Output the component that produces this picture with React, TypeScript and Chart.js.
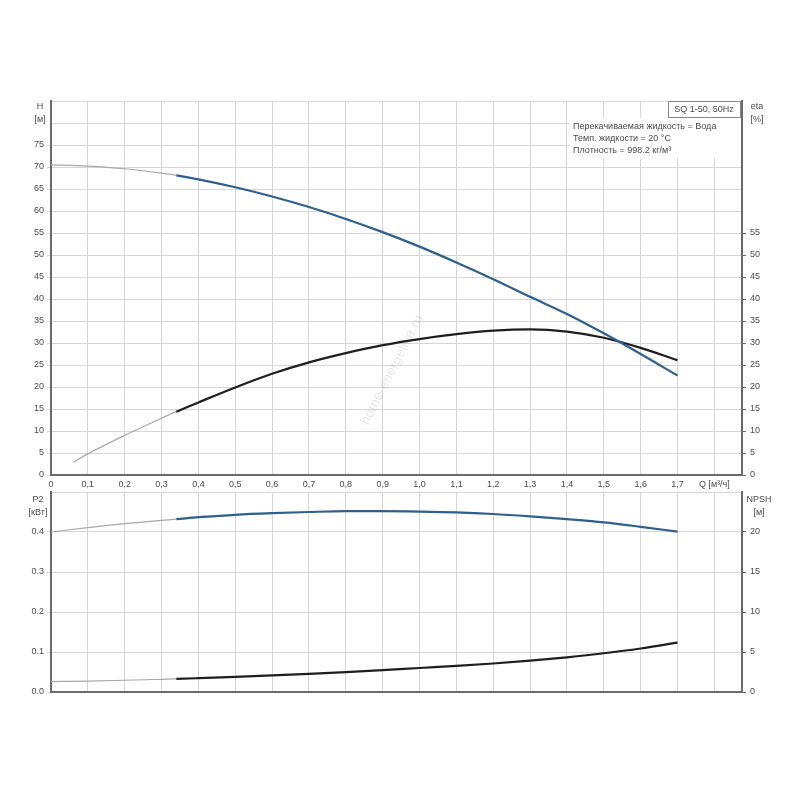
import { useEffect, useRef } from "react"
import { Chart, registerables } from "chart.js"

Chart.register(...registerables)

// flow points, m3/h
const flow = [0, 0.1, 0.2, 0.3, 0.34, 0.4, 0.5, 0.6, 0.7, 0.8, 0.9, 1.0, 1.1, 1.2, 1.3, 1.4, 1.5, 1.6, 1.7]
const head = [70.5, 70.2, 69.6, 68.6, 68.1, 67.2, 65.4, 63.3, 60.9, 58.2, 55.2, 51.9, 48.3, 44.5, 40.5, 36.6, 32.2, 27.5, 22.6]
const etaFlow = [0.06, 0.1, 0.2, 0.3, 0.34, 0.4, 0.5, 0.6, 0.7, 0.8, 0.9, 1.0, 1.1, 1.2, 1.3, 1.4, 1.5, 1.6, 1.7]
const eta = [2.9, 4.8, 9.0, 12.9, 14.4, 16.5, 19.9, 23.0, 25.6, 27.7, 29.5, 30.9, 32.0, 32.8, 33.1, 32.6, 31.2, 28.9, 26.1]
const power = [0.4, 0.411, 0.421, 0.429, 0.432, 0.437, 0.443, 0.447, 0.45, 0.452, 0.452, 0.451, 0.449, 0.445, 0.439, 0.432, 0.424, 0.413, 0.401]
const npsh = [1.29, 1.37, 1.47, 1.59, 1.64, 1.73, 1.89, 2.07, 2.27, 2.49, 2.73, 3.0, 3.26, 3.56, 3.92, 4.34, 4.84, 5.44, 6.17]

const flowTicks = [0, 0.1, 0.2, 0.3, 0.4, 0.5, 0.6, 0.7, 0.8, 0.9, 1.0, 1.1, 1.2, 1.3, 1.4, 1.5, 1.6, 1.7, 1.8]
const headTicks = [0, 5, 10, 15, 20, 25, 30, 35, 40, 45, 50, 55, 60, 65, 70, 75, 80, 85]
const powerTicks = [0, 0.1, 0.2, 0.3, 0.4, 0.5]
const npshTicks = [0, 5, 10, 15, 20, 25]

const FONT = '"Liberation Sans", Arial, sans-serif'
const TEXT = "#4a4a4a"
const GRID = "#d6d6d6"
const AXIS = "#6a6a6a"
const THIN = "#a8a8a8"
const BLUE = "#2f5f8c"
const BLACK = "#1e1e1e"
const START = 0.34 // thin grey part before this flow

const pts = (xs: number[], ys: number[]) => xs.map((x, i) => ({ x, y: ys[i] }))

const lineSet = (data: { x: number; y: number }[], color: string, yAxisID: string) => ({
  data,
  yAxisID,
  borderColor: color,
  borderWidth: 2,
  pointRadius: 0,
  cubicInterpolationMode: "monotone" as const,
  segment: {
    borderColor: (c: any) => (c.p0.parsed.x < START - 0.001 ? THIN : color),
    borderWidth: (c: any) => (c.p0.parsed.x < START - 0.001 ? 1.2 : 2.2),
  },
})

const setTicks = (values: number[]) => (axis: any) => {
  axis.ticks = values.map((value) => ({ value }))
}

const tickFont = { family: FONT, size: 9 }

const topText = {
  id: "topText",
  afterDraw(chart: Chart) {
    const { ctx } = chart
    ctx.save()
    // info block background
    ctx.fillStyle = "#fff"
    ctx.fillRect(570, 118, 171, 40)
    ctx.fillRect(668, 102, 73, 16)
    ctx.strokeStyle = "#888"
    ctx.lineWidth = 1
    ctx.strokeRect(668.5, 101.5, 72, 16)

    ctx.font = `9px ${FONT}`
    ctx.fillStyle = TEXT
    ctx.textBaseline = "middle"
    ctx.textAlign = "center"
    ctx.fillText("SQ 1-50, 50Hz", 704, 110)
    ctx.fillText("H", 40, 107)
    ctx.fillText("[м]", 40, 120)
    ctx.fillText("eta", 757, 107)
    ctx.fillText("[%]", 757, 120)

    ctx.textAlign = "left"
    ctx.fillText("Перекачиваемая жидкость = Вода", 573, 127)
    ctx.fillText("Темп. жидкости = 20 °C", 573, 139)
    ctx.fillText("Плотность = 998.2 кг/м³", 573, 151)

    // watermark
    ctx.translate(392, 370)
    ctx.rotate((-63 * Math.PI) / 180)
    ctx.textAlign = "center"
    ctx.font = `14px ${FONT}`
    ctx.fillStyle = "rgba(0,0,0,0.1)"
    ctx.fillText("home-energetika.ru", 0, 0)
    ctx.restore()
  },
}

const bottomText = {
  id: "bottomText",
  afterDraw(chart: Chart) {
    const { ctx } = chart
    ctx.save()
    ctx.font = `9px ${FONT}`
    ctx.fillStyle = TEXT
    ctx.textBaseline = "middle"
    ctx.textAlign = "center"
    ctx.fillText("P2", 38, 20)
    ctx.fillText("[кВт]", 38, 33)
    ctx.fillText("NPSH", 759, 20)
    ctx.fillText("[м]", 759, 33)
    ctx.restore()
  },
}

const xAxis = (showLabels: boolean, height: number) => ({
  type: "linear" as const,
  min: 0,
  max: 1.875,
  afterBuildTicks: setTicks(flowTicks),
  afterFit: (s: any) => {
    s.height = height
  },
  grid: { color: GRID, drawTicks: false },
  border: { color: AXIS, width: 2 },
  ticks: {
    display: showLabels,
    padding: 4,
    color: TEXT,
    font: tickFont,
    maxRotation: 0,
    autoSkip: false,
    callback: (v: any) => {
      const n = Number(v)
      if (Math.abs(n - 1.8) < 0.001) return "Q [м³/ч]"
      if (n > 1.8) return ""
      return n === 0 ? "0" : n.toFixed(1).replace(".", ",")
    },
  },
})

const yAxis = (
  position: "left" | "right",
  max: number,
  ticks: number[],
  lastLabel: number,
  format: (n: number) => string,
) => ({
  type: "linear" as const,
  position,
  min: 0,
  max,
  afterBuildTicks: setTicks(ticks),
  afterFit: (s: any) => {
    s.width = position === "left" ? 51 : 58
  },
  grid: {
    drawOnChartArea: position === "left",
    color: GRID,
    tickLength: 4,
    tickColor: (c: any) =>
      c.tick && c.tick.value > lastLabel + 1e-6 ? "rgba(0,0,0,0)" : position === "left" ? GRID : AXIS,
  },
  border: { color: AXIS, width: 2 },
  ticks: {
    padding: position === "left" ? 3 : 4,
    color: TEXT,
    font: tickFont,
    callback: (v: any) => (Number(v) > lastLabel + 1e-6 ? "" : format(Number(v))),
  },
})

export default function App() {
  const topRef = useRef<HTMLCanvasElement>(null)
  const bottomRef = useRef<HTMLCanvasElement>(null)

  useEffect(() => {
    if (!topRef.current || !bottomRef.current) return

    const top = new Chart(topRef.current, {
      type: "line",
      data: {
        datasets: [lineSet(pts(flow, head), BLUE, "y"), lineSet(pts(etaFlow, eta), BLACK, "eta")],
      },
      options: {
        animation: false,
        responsive: false,
        layout: { padding: { top: 101, left: 0, right: 0, bottom: 0 } },
        plugins: { legend: { display: false }, tooltip: { enabled: false } },
        scales: {
          x: xAxis(true, 25),
          y: yAxis("left", 85, headTicks, 75, String),
          eta: yAxis("right", 85, headTicks, 55, String),
        },
      },
      plugins: [topText],
    })

    const bottom = new Chart(bottomRef.current, {
      type: "line",
      data: {
        datasets: [lineSet(pts(flow, power), BLUE, "y"), lineSet(pts(flow, npsh), BLACK, "npsh")],
      },
      options: {
        animation: false,
        responsive: false,
        layout: { padding: { top: 12, left: 0, right: 0, bottom: 108 } },
        plugins: { legend: { display: false }, tooltip: { enabled: false } },
        scales: {
          x: xAxis(false, 0),
          y: yAxis("left", 0.5, powerTicks, 0.4, (n) => n.toFixed(1)),
          npsh: yAxis("right", 25, npshTicks, 20, String),
        },
      },
      plugins: [bottomText],
    })

    return () => {
      top.destroy()
      bottom.destroy()
    }
  }, [])

  return (
    <div style={{ position: "fixed", left: 0, top: 0, width: 800, height: 800, background: "#fff" }}>
      <canvas ref={topRef} width={800} height={500} style={{ position: "absolute", left: 0, top: 0 }} />
      <canvas ref={bottomRef} width={800} height={320} style={{ position: "absolute", left: 0, top: 480 }} />
    </div>
  )
}
